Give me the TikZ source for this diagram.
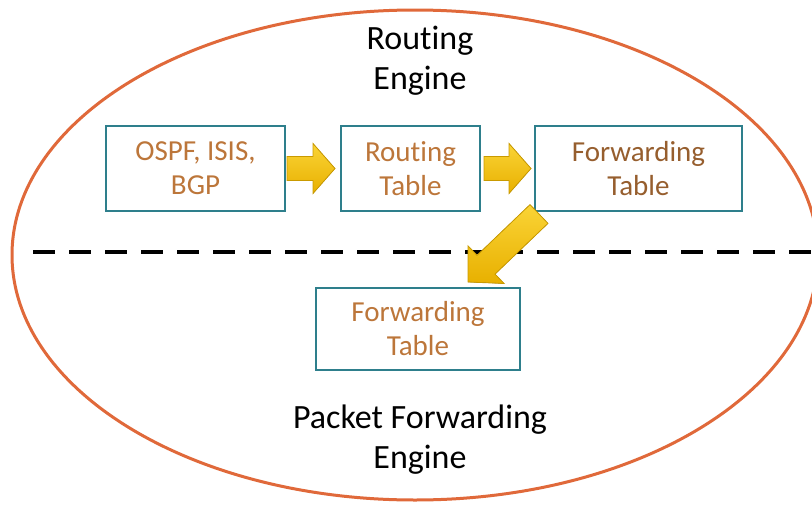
\documentclass[tikz,border=0pt]{standalone}
\usepackage{fontspec}
\setmainfont{Carlito}[RawFeature={-liga;-clig;-calt}]
\usetikzlibrary{calc}
\definecolor{ellorange}{HTML}{E0693A}
\definecolor{boxteal}{HTML}{2E7F8C}
\definecolor{txtbrown}{HTML}{BC763A}
\definecolor{arrtop}{HTML}{FAD436}
\definecolor{arrbot}{HTML}{E8B000}
\definecolor{arrdark}{HTML}{C99A00}
\newcommand\blkarrow[5]{%
  \coordinate (#1-c) at ($(#2)!#5!(#1)$);
  \filldraw[blockarrow]
    ($(#1)!#3!90:(#2)$) -- ($(#1-c)!#3!90:(#2)$) -- ($(#1-c)!#4!90:(#2)$) -- (#2)
    -- ($(#1-c)!#4!-90:(#2)$) -- ($(#1-c)!#3!-90:(#2)$) -- ($(#1)!#3!-90:(#2)$) -- cycle;}
\begin{document}
\begin{tikzpicture}[x=1pt,y=-1pt,
  tbox/.style={draw=boxteal,line width=2pt,text=txtbrown,align=center,
    font=\fontsize{29}{34}\selectfont,inner sep=0pt},
  title/.style={align=center,font=\fontsize{34}{40}\selectfont,text=black},
  blockarrow/.style={top color=arrtop,bottom color=arrbot,draw=arrdark,line width=0.8pt,line join=miter}]
\useasboundingbox (0,0) rectangle (812,504);
\clip (0,0) rectangle (812,504);
\draw[ellorange,line width=3pt] (415,255) ellipse [x radius=403, y radius=245];
\coordinate (dl) at (33,252);
\coordinate (dr) at (812,252);
\draw[black,line width=4pt,dash pattern=on 22pt off 14pt] (dl) -- (dr);
\node[title] (re) at (420,61) {Routing\\Engine};
\node[title] (pfe) at (420,440) {Packet Forwarding\\Engine};
\node[tbox,minimum width=179pt,minimum height=85pt] (ospf) at (195.5,168.5) {OSPF, ISIS,\\BGP};
\node[tbox,minimum width=139pt,minimum height=85pt] (rt) at (410.5,168.5) {Routing\\Table};
\node[tbox,minimum width=207pt,minimum height=85pt,text=txtbrown!80!black] (ft) at (638.5,168.5) {Forwarding\\Table};
\node[tbox,minimum width=204pt,minimum height=82pt] (ft2) at (418,329) {Forwarding\\Table};
\coordinate (a1t) at ($(ospf.east)+(1,0)$);
\coordinate (a1h) at ($(rt.west)+(-5,0)$);
\coordinate (a2t) at ($(rt.east)+(3,0)$);
\coordinate (a2h) at ($(ft.west)+(-3,0)$);
\coordinate (a3t) at (539,214);
\coordinate (a3h) at (468,282);
\blkarrow{a1t}{a1h}{12pt}{25pt}{22pt}
\blkarrow{a2t}{a2h}{12pt}{25pt}{22pt}
\blkarrow{a3t}{a3h}{13pt}{26pt}{25pt}
\end{tikzpicture}
\end{document}
